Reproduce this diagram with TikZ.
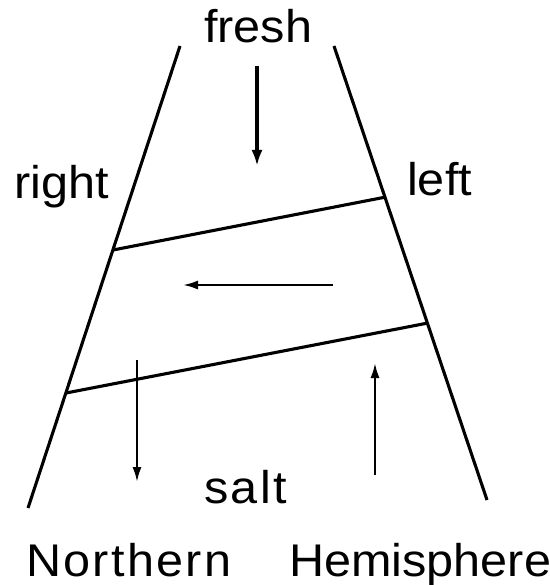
\documentclass[tikz,border=0pt]{standalone}
\usepackage{fontspec}
\setmainfont[FakeStretch=1.06]{Liberation Sans}
\usetikzlibrary{arrows.meta}
\begin{document}
\begin{tikzpicture}[x=1bp,y=-1bp,
  wall/.style={line width=3.1bp},
  flow/.style={line width=2.3bp,-{Latex[length=15bp,width=9bp]}},
  flowthick/.style={line width=3.4bp,-{Latex[length=16bp,width=11bp]}},
  lbl/.style={font=\fontsize{46}{50}\selectfont, inner sep=0pt, anchor=base west}]
\useasboundingbox (0,0) rectangle (550,585);
% walls
\coordinate (LT) at (180,46);
\coordinate (LB) at (28,508);
\coordinate (RT) at (334,46);
\coordinate (RB) at (487,500);
\draw[wall] (LT) -- (LB);
\draw[wall] (RT) -- (RB);
% interfaces
\coordinate (A1) at (113,250);
\coordinate (A2) at (386,197);
\coordinate (B1) at (66,393);
\coordinate (B2) at (428,323);
\draw[wall] (A1) -- (A2);
\draw[wall] (B1) -- (B2);
% arrows
\coordinate (f1) at (257,66);
\coordinate (f2) at (257,166);
\draw[flowthick] (f1) -- (f2);
\coordinate (m1) at (333,285);
\coordinate (m2) at (183,285);
\draw[flow] (m1) -- (m2);
\coordinate (d1) at (137,360);
\coordinate (d2) at (137,482);
\draw[flow] (d1) -- (d2);
\coordinate (u1) at (375,475);
\coordinate (u2) at (375,363);
\draw[flow] (u1) -- (u2);
% labels
\node[lbl] (fresh) at (204,43) {fresh};
\node[lbl] (right) at (14,198) {right};
\node[lbl] (left) at (407,195) {left};
\node[lbl] (salt) at (204,503) {\addfontfeature{LetterSpace=5}salt};
\node[lbl] (north) at (26,576) {\addfontfeature{LetterSpace=5}Northern};
\node[lbl] (hemi) at (289,576) {Hemisphere};
\end{tikzpicture}
\end{document}
